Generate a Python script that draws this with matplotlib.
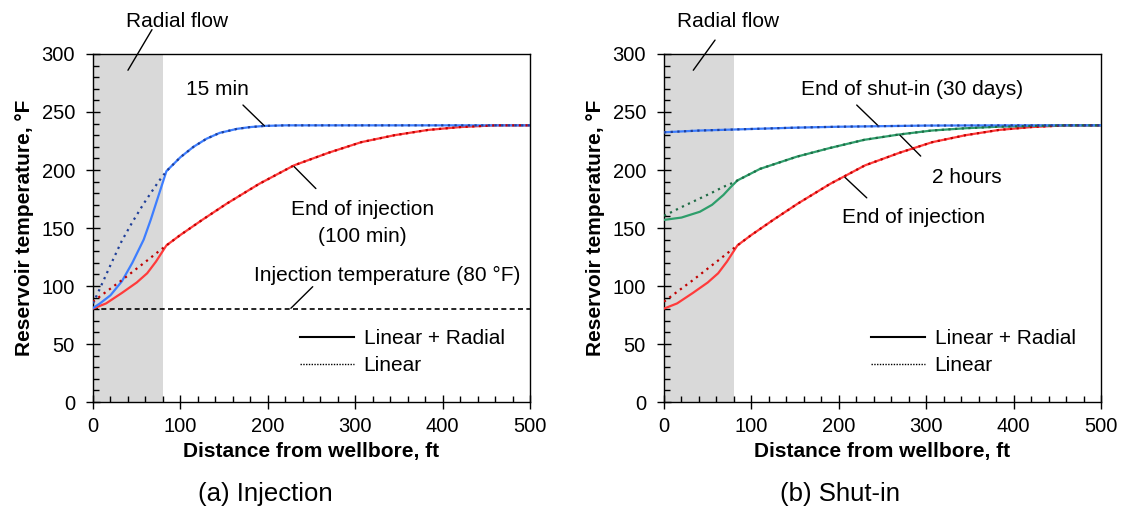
import matplotlib
matplotlib.use('Agg')
import matplotlib.pyplot as plt
from matplotlib.lines import Line2D
from matplotlib.ticker import MultipleLocator

plt.rcParams['font.family'] = ['Liberation Sans', 'DejaVu Sans']

# ---- data (distance ft, temperature F) ----
inj_temp = 80
radial_end = 80

x_15min = [0, 8, 20, 33, 45, 58, 66, 75, 84, 100, 115, 130, 145, 165, 180, 196, 220, 260, 300, 400, 500]
t_15min_lr = [81, 85, 92, 104, 120, 140, 157, 178, 199, 211, 220, 227, 232, 235.5, 237, 238, 238.5, 238.5, 238.5, 238.5, 238.5]
t_15min_lin = [85, 98, 118, 139, 155, 171, 180, 190, 199, 211, 220, 227, 232, 235.5, 237, 238, 238.5, 238.5, 238.5, 238.5, 238.5]

x_endinj = [0, 15, 33, 50, 62, 72, 84, 100, 125, 153, 190, 230, 270, 307, 345, 383, 420, 460, 500]
t_endinj_lr = [80.5, 85, 94, 103, 111, 121, 135, 144, 157, 171, 188, 204, 215, 224, 230, 234.5, 237, 238.5, 238.5]
t_endinj_lin = [86.5, 95, 105, 115, 122, 128, 135, 144, 157, 171, 188, 204, 215, 224, 230, 234.5, 237, 238.5, 238.5]

x_2h = [0, 20, 41, 55, 68, 76, 84, 110, 152, 190, 229, 268, 306, 345, 382, 420, 460, 500]
t_2h_lr = [157, 159, 164, 170, 178.5, 185, 191, 201, 211.5, 219, 226, 230.5, 234, 236, 237.3, 238, 238.5, 238.5]
t_2h_lin = [160.5, 168, 175.5, 180.5, 185.5, 188, 191, 201, 211.5, 219, 226, 230.5, 234, 236, 237.3, 238, 238.5, 238.5]

x_30d = [0, 40, 84, 150, 200, 300, 400, 500]
t_30d_lr = [232.5, 234, 235, 236.5, 237.3, 238.3, 238.5, 238.5]
t_30d_lin = [232.5, 234, 235, 236.5, 237.3, 238.3, 238.5, 238.5]

c_blue, c_blue_d = '#3D7EFF', '#1F3F99'
c_red, c_red_d = '#FF3B3B', '#C00000'
c_green, c_green_d = '#2E9E6B', '#1E6B45'

dot = (0, (1, 2))
fs = 15

fig = plt.figure(figsize=(11.26, 5.14), dpi=100)
axL = fig.add_axes([93/1126, 112/514, 437/1126, 348/514])
axR = fig.add_axes([664/1126, 112/514, 437/1126, 348/514])


def style(ax):
    ax.axvspan(0, radial_end, color='#D9D9D9', zorder=0, lw=0)
    ax.set_xlim(0, 500)
    ax.set_ylim(0, 300)
    ax.xaxis.set_major_locator(MultipleLocator(100))
    ax.xaxis.set_minor_locator(MultipleLocator(20))
    ax.yaxis.set_major_locator(MultipleLocator(50))
    ax.yaxis.set_minor_locator(MultipleLocator(10))
    ax.tick_params(which='major', direction='inout', length=10, width=1.0, labelsize=14.5)
    ax.tick_params(axis='x', which='major', pad=6)
    ax.tick_params(axis='y', which='major', pad=8)
    ax.tick_params(which='minor', direction='in', length=4, width=1.0)
    for s in ax.spines.values():
        s.set_linewidth(1.0)
    ax.set_xlabel('Distance from wellbore, ft', fontsize=15, fontweight='bold')
    ax.set_ylabel('Reservoir temperature, °F', fontsize=15, fontweight='bold')
    ax.xaxis.set_label_coords(0.5, -0.115)
    ax.yaxis.set_label_coords(-0.135, 0.5)
    handles = [Line2D([], [], color='black', lw=1.5),
               Line2D([], [], color='black', lw=1.0, ls=(0, (1, 1)))]
    ax.legend(handles, ['Linear + Radial', 'Linear'], loc='center left',
              bbox_to_anchor=(0.474, 0.143), frameon=False, fontsize=fs,
              handlelength=2.6, handletextpad=0.45, labelspacing=0.4,
              borderpad=0, borderaxespad=0)


def leader(ax, p0, p1):
    ax.annotate('', xy=p1, xytext=p0, annotation_clip=False,
                arrowprops=dict(arrowstyle='-', color='black', lw=1.0,
                                shrinkA=0, shrinkB=0))


# ---- (a) Injection ----
style(axL)
axL.axhline(inj_temp, color='black', lw=1.2, ls=(0, (3, 2)), zorder=2)
axL.plot(x_endinj, t_endinj_lr, color=c_red, lw=1.6, zorder=3)
axL.plot(x_endinj, t_endinj_lin, color=c_red_d, lw=1.6, ls=dot, zorder=4)
axL.plot(x_15min, t_15min_lr, color=c_blue, lw=1.6, zorder=3)
axL.plot(x_15min, t_15min_lin, color=c_blue_d, lw=1.6, ls=dot, zorder=4)

axL.text(96.5, 328, 'Radial flow', ha='center', va='center', fontsize=fs, clip_on=False)
leader(axL, (67.5, 321), (40, 286))
axL.text(142, 269.6, '15 min', ha='center', va='center', fontsize=fs)
leader(axL, (171.6, 256), (196.2, 238))
axL.text(308, 166, 'End of injection', ha='center', va='center', fontsize=fs)
axL.text(308, 143, '(100 min)', ha='center', va='center', fontsize=fs)
leader(axL, (230, 203), (255, 184))
axL.text(336.6, 109.5, 'Injection temperature (80 °F)', ha='center', va='center', fontsize=fs)
leader(axL, (251.4, 99.4), (226.4, 80.8))

# ---- (b) Shut-in ----
style(axR)
axR.plot(x_endinj, t_endinj_lr, color=c_red, lw=1.6, zorder=3)
axR.plot(x_endinj, t_endinj_lin, color=c_red_d, lw=1.6, ls=dot, zorder=4)
axR.plot(x_2h, t_2h_lr, color=c_green, lw=1.6, zorder=3)
axR.plot(x_2h, t_2h_lin, color=c_green_d, lw=1.6, ls=dot, zorder=4)
axR.plot(x_30d, t_30d_lr, color=c_blue, lw=1.6, zorder=3)
axR.plot(x_30d, t_30d_lin, color=c_blue_d, lw=1.6, ls=dot, zorder=4)

axR.text(73.2, 328, 'Radial flow', ha='center', va='center', fontsize=fs, clip_on=False)
leader(axR, (58.4, 312), (33.5, 286))
axR.text(284, 269.8, 'End of shut-in (30 days)', ha='center', va='center', fontsize=fs)
leader(axR, (220.5, 256), (245.2, 238))
axR.text(347, 193.7, '2 hours', ha='center', va='center', fontsize=fs)
leader(axR, (270, 230), (293.7, 212))
axR.text(285.3, 159.2, 'End of injection', ha='center', va='center', fontsize=fs)
leader(axR, (207, 193.7), (232, 176))

fig.text(265/1126, 1 - 494/514, '(a) Injection', ha='center', va='center', fontsize=18.5)
fig.text(840/1126, 1 - 494/514, '(b) Shut-in', ha='center', va='center', fontsize=18.5)

fig.savefig('out.png', dpi=100)
